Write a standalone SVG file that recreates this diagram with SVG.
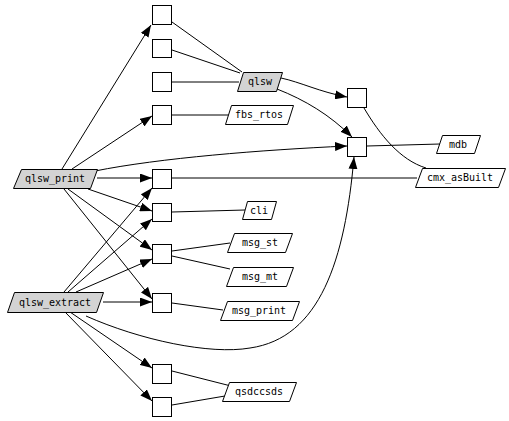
<svg xmlns="http://www.w3.org/2000/svg" width="509" height="421" viewBox="0 0 509 421">
<style>
.b{fill:#fff;stroke:#000;stroke-width:1}
.g{fill:#d3d3d3;stroke:#000;stroke-width:1}
.p{fill:#fff;stroke:#000;stroke-width:1}
text{font-family:"DejaVu Sans Mono","Liberation Mono",monospace;font-size:10px;text-anchor:middle;fill:#000}
#edges path{fill:none;stroke:#000;stroke-width:1}
</style>
<defs>
<marker id="a" markerWidth="12" markerHeight="9" refX="12" refY="4.5" orient="auto" markerUnits="userSpaceOnUse">
<path d="M0,0 L12,4.5 L0,9 Z" fill="#000"/>
</marker>
</defs>
<rect width="509" height="421" fill="#fff"/>
<g id="edges">
<path d="M62,169 L151,25" marker-end="url(#a)"/>
<path d="M72,169 L152,116" marker-end="url(#a)"/>
<path d="M95,171 C160,158 260,150 347,146" marker-end="url(#a)"/>
<path d="M97,178 L152,178" marker-end="url(#a)"/>
<path d="M88,189 L152,211" marker-end="url(#a)"/>
<path d="M68,189 L152,250" marker-end="url(#a)"/>
<path d="M64,189 L152,299" marker-end="url(#a)"/>
<path d="M64,292 L152,188" marker-end="url(#a)"/>
<path d="M68,292 L152,219" marker-end="url(#a)"/>
<path d="M76,292 L152,259" marker-end="url(#a)"/>
<path d="M103,302 L152,302" marker-end="url(#a)"/>
<path d="M86,316 C140,340 210,355 250,348 C320,338 345,260 354,157" marker-end="url(#a)"/>
<path d="M70,312 L152,368" marker-end="url(#a)"/>
<path d="M65,312 L152,401" marker-end="url(#a)"/>
<path d="M172,22 L242,72"/>
<path d="M172,50 L240,73"/>
<path d="M172,82 L239,82"/>
<path d="M172,115 L229,115"/>
<path d="M281,78 C300,82 320,92 347,97" marker-end="url(#a)"/>
<path d="M277,89 C305,100 330,115 352,137" marker-end="url(#a)"/>
<path d="M364,108 C380,135 400,160 426,168"/>
<path d="M367,146 L440,144"/>
<path d="M172,178 L417,178"/>
<path d="M172,212 L245,210"/>
<path d="M172,251 L230,243"/>
<path d="M172,256 L230,269"/>
<path d="M172,303 L223,310"/>
<path d="M172,371 L231,386"/>
<path d="M172,405 L225,396"/>
</g>
<g id="B1"><rect class="b" x="152.5" y="5.5" width="19" height="19"/></g>
<g id="B2"><rect class="b" x="152.5" y="39.5" width="19" height="18"/></g>
<g id="B3"><rect class="b" x="152.5" y="72.5" width="19" height="19"/></g>
<g id="B4"><rect class="b" x="152.5" y="105.5" width="19" height="19"/></g>
<g id="B5"><rect class="b" x="152.5" y="169.5" width="19" height="19"/></g>
<g id="B6"><rect class="b" x="152.5" y="203.5" width="19" height="18"/></g>
<g id="B7"><rect class="b" x="152.5" y="244.5" width="19" height="19"/></g>
<g id="B8"><rect class="b" x="152.5" y="293.5" width="19" height="19"/></g>
<g id="B9"><rect class="b" x="152.5" y="364.5" width="19" height="19"/></g>
<g id="B10"><rect class="b" x="152.5" y="397.5" width="19" height="19"/></g>
<g id="B11"><rect class="b" x="347.5" y="88.5" width="19" height="19"/></g>
<g id="B12"><rect class="b" x="347.5" y="137.5" width="19" height="19"/></g>
<g id="qlsw"><polygon class="g" points="243.5,72.5 282.5,72.5 276.5,91.5 237.5,91.5"/><text x="260" y="85">qlsw</text></g>
<g id="fbs_rtos"><polygon class="p" points="231.5,105.5 293.5,105.5 287.5,124.5 225.5,124.5"/><text x="259" y="118">fbs_rtos</text></g>
<g id="mdb"><polygon class="p" points="442.5,135.5 480.5,135.5 474.5,153.5 436.5,153.5"/><text x="458" y="148">mdb</text></g>
<g id="cmx_asBuilt"><polygon class="p" points="422.5,168.5 505.5,168.5 498.5,187.5 415.5,187.5"/><text x="460" y="181">cmx_asBuilt</text></g>
<g id="qlsw_print"><polygon class="g" points="21.5,169.5 97.5,169.5 90.5,188.5 13.5,188.5"/><text x="55" y="182">qlsw_print</text></g>
<g id="cli"><polygon class="p" points="247.5,201.5 276.5,201.5 271.5,219.5 242.5,219.5"/><text x="259" y="214">cli</text></g>
<g id="msg_st"><polygon class="p" points="234.5,233.5 292.5,233.5 285.5,252.5 227.5,252.5"/><text x="260" y="246">msg_st</text></g>
<g id="msg_mt"><polygon class="p" points="233.5,267.5 293.5,267.5 286.5,286.5 226.5,286.5"/><text x="260" y="280">msg_mt</text></g>
<g id="qlsw_extract"><polygon class="g" points="14.5,292.5 103.5,292.5 96.5,312.5 7.5,312.5"/><text x="55" y="306">qlsw_extract</text></g>
<g id="msg_print"><polygon class="p" points="227.5,301.5 299.5,301.5 292.5,320.5 220.5,320.5"/><text x="259" y="314">msg_print</text></g>
<g id="qsdccsds"><polygon class="p" points="229.5,382.5 296.5,382.5 289.5,401.5 222.5,401.5"/><text x="259" y="395">qsdccsds</text></g>
</svg>
